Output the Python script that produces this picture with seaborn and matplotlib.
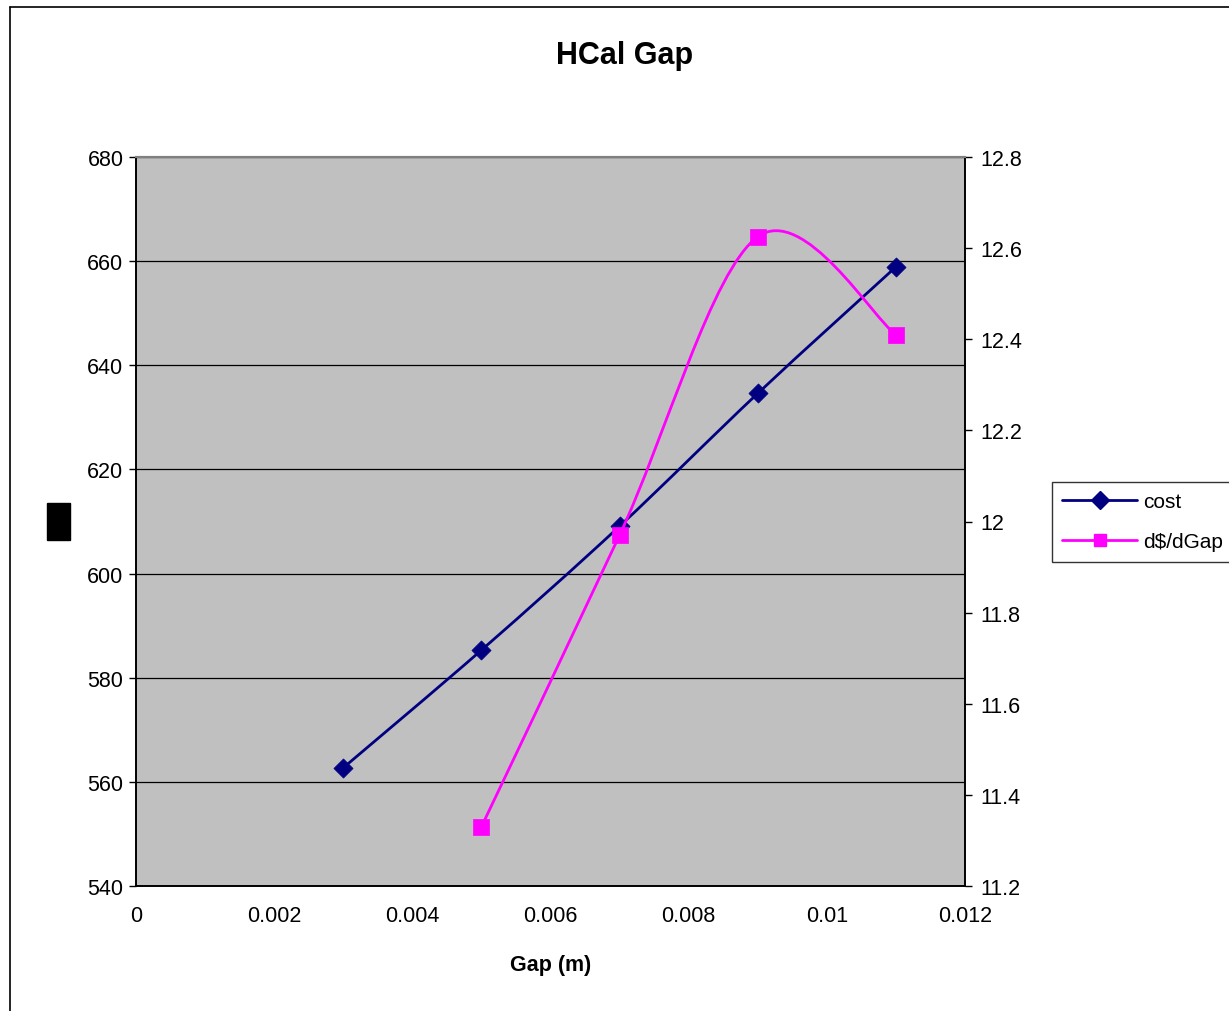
import numpy as np
import pandas as pd
import matplotlib
matplotlib.use("Agg")
import matplotlib.pyplot as plt
import seaborn as sns
from matplotlib.path import Path
from matplotlib.patches import PathPatch, Rectangle
from matplotlib.lines import Line2D
from matplotlib.ticker import FuncFormatter, MultipleLocator

# ---- data ----
gap_cost = [0.003, 0.005, 0.007, 0.009, 0.011]
cost = [562.7, 585.3, 609.1, 634.6, 658.9]
gap_deriv = [0.005, 0.007, 0.009, 0.011]
deriv = [11.33, 11.97, 12.625, 12.41]
title = "HCal Gap"
xlabel = "Gap (m)"
series_names = ["cost", "d$/dGap"]

sns.set_style("white")
plt.rcParams['font.family'] = ['Liberation Sans', 'DejaVu Sans']
plt.rcParams['text.color'] = 'black'
plt.rcParams['axes.labelcolor'] = 'black'
plt.rcParams['xtick.color'] = 'black'
plt.rcParams['ytick.color'] = 'black'

NAVY = "#000080"
MAG = "#FF00FF"

fig = plt.figure(figsize=(12.29, 10.12), dpi=100)
ax = fig.add_axes([136/1229, 1-887/1012, (965-136)/1229, (887-158)/1012])
ax.set_facecolor("#C0C0C0")
ax2 = ax.twinx()


def smooth_path(xs, ys):
    """Excel-style smoothed line: cubic Bezier through the points."""
    pts = np.column_stack([xs, ys]).astype(float)
    n = len(pts)
    verts = [pts[0]]
    codes = [Path.MOVETO]
    for i in range(n - 1):
        p0 = pts[i - 1] if i > 0 else pts[i]
        p1 = pts[i]
        p2 = pts[i + 1]
        p3 = pts[i + 2] if i + 2 < n else pts[i + 1]
        c1 = p1 + (p2 - p0) / 6.0
        c2 = p2 - (p3 - p1) / 6.0
        verts += [c1, c2, p2]
        codes += [Path.CURVE4] * 3
    return Path(verts, codes)


df_cost = pd.DataFrame({"gap": gap_cost, "val": cost})
df_der = pd.DataFrame({"gap": gap_deriv, "val": deriv})

ax.add_patch(PathPatch(smooth_path(gap_cost, cost), fill=False, edgecolor=NAVY,
                       lw=2.0, zorder=3, capstyle="round", joinstyle="round"))
sns.scatterplot(data=df_cost, x="gap", y="val", marker="D", s=95, color=NAVY,
                edgecolor=NAVY, linewidth=0.5, ax=ax, zorder=4, legend=False)

ax2.add_patch(PathPatch(smooth_path(gap_deriv, deriv), fill=False, edgecolor=MAG,
                        lw=2.0, zorder=3, capstyle="round", joinstyle="round"))
sns.scatterplot(data=df_der, x="gap", y="val", marker="s", s=140, color=MAG,
                edgecolor=MAG, linewidth=0.5, ax=ax2, zorder=4, legend=False)

ax.set_xlim(0, 0.012)
ax.set_ylim(540, 680)
ax2.set_ylim(11.2, 12.8)
ax.xaxis.set_major_locator(MultipleLocator(0.002))
ax.yaxis.set_major_locator(MultipleLocator(20))
ax2.yaxis.set_major_locator(MultipleLocator(0.2))
ax.xaxis.set_major_formatter(FuncFormatter(lambda v, p: "%g" % round(v, 4)))
ax2.yaxis.set_major_formatter(FuncFormatter(lambda v, p: "%g" % round(v, 2)))

ax.yaxis.grid(True, color="black", lw=0.9)
ax.xaxis.grid(False)
ax.set_axisbelow(True)

for a in (ax, ax2):
    a.tick_params(direction="out", length=5, width=1, color="black",
                  labelsize=15.5, pad=5, labelcolor="black")
    for s in ("left", "right", "bottom"):
        a.spines[s].set_color("black")
        a.spines[s].set_linewidth(1.2)
    a.spines["top"].set_color("#808080")
    a.spines["top"].set_linewidth(1.5)
ax.tick_params(axis="x", pad=9)
ax.tick_params(axis="y", left=True, pad=4)
ax2.tick_params(axis="y", right=True, pad=6)
ax.set_ylabel("")
ax2.set_ylabel("")
ax.set_xlabel(xlabel, fontsize=15.5, fontweight="bold", labelpad=20, color="black")

fig.text(625/1229, 1-56/1012, title, ha="center", va="center",
         fontsize=22, fontweight="bold", color="black")

# figure frame
fig.add_artist(Line2D([10/1229, 10/1229], [0, 1-8/1012], color="black", lw=1.2,
                      transform=fig.transFigure))
fig.add_artist(Line2D([10/1229, 1], [1-8/1012, 1-8/1012], color="black", lw=1.2,
                      transform=fig.transFigure))

# black block where the y label was
fig.add_artist(Rectangle((47/1229, 1-541/1012), 23/1229, 37/1012,
                         transform=fig.transFigure, color="black"))

handles = [Line2D([], [], color=NAVY, lw=2, marker="D", markersize=9),
           Line2D([], [], color=MAG, lw=2, marker="s", markersize=9)]
leg = fig.legend(handles, series_names, loc="upper left",
                 bbox_to_anchor=(1052/1229, 1-483/1012), fontsize=15,
                 frameon=True, fancybox=False, edgecolor="black",
                 handlelength=3.6, handletextpad=0.25, borderpad=0.5,
                 labelspacing=1.0, borderaxespad=0)
leg.get_frame().set_linewidth(1.0)
for t in leg.get_texts():
    t.set_color("black")

fig.savefig("out.png", dpi=100, facecolor="white")
